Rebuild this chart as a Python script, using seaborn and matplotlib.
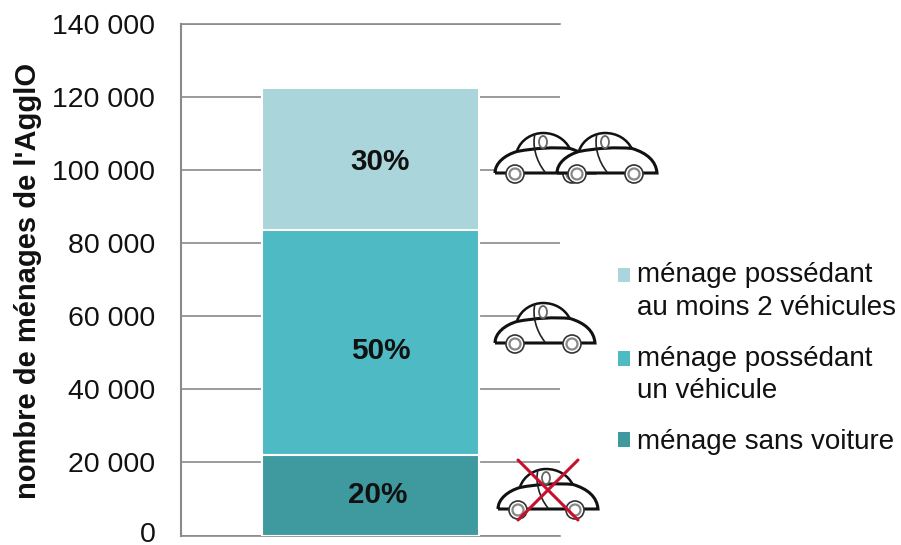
import matplotlib
matplotlib.use("Agg")
import matplotlib.pyplot as plt
import matplotlib.transforms as mtrans
import seaborn as sns
import pandas as pd
from matplotlib.path import Path
from matplotlib.patches import PathPatch, Circle, Ellipse, Rectangle
from matplotlib.lines import Line2D

categories = ["ménage sans voiture", "ménage possédant\nun véhicule", "ménage possédant\nau moins 2 véhicules"]
households = [22000, 61700, 38900]
shares = ["20%", "50%", "30%"]
colors = ["#3F9AA0", "#4DBAC4", "#AAD5DA"]
yticks = [0, 20000, 40000, 60000, 80000, 100000, 120000, 140000]
ylabel = "nombre de ménages de l'AgglO"

W, H = 901, 545
sns.set_theme(style="white")
plt.rcParams["font.family"] = ["Liberation Sans", "DejaVu Sans"]
GRID = "#8A8A8A"

fig = plt.figure(figsize=(W / 100, H / 100), dpi=100, facecolor="white")
ax = fig.add_axes([181 / W, 1 - 535.5 / H, 379 / W, 511.5 / H])

cum = pd.Series(households).cumsum().tolist()
for i in reversed(range(3)):
    df = pd.DataFrame({"g": ["total"], "v": [cum[i]]})
    sns.barplot(data=df, x="g", y="v", color=colors[i], saturation=1, width=0.575,
                edgecolor="white", linewidth=1.5, ax=ax, zorder=3)
ax.set_xlim(-0.5, 0.5)
ax.set_ylim(0, 140000)
ax.set_xticks([])
ax.set_xlabel("")
ax.set_yticks(yticks)
ax.set_yticklabels([f"{t:,}".replace(",", " ") for t in yticks], fontsize=20.5, color="#111111")
ax.tick_params(axis="y", length=0, pad=18.5)
for k, lab in enumerate(ax.get_yticklabels()):
    lift = mtrans.ScaledTranslation(0, (4 if k == 0 else 0.5) / 100, fig.dpi_scale_trans)
    lab.set_transform(lab.get_transform() + lift)
ax.set_ylabel(ylabel, fontsize=21.0, fontweight="bold", color="#111111")
ax.yaxis.set_label_coords((42 - 181) / 379, (535.5 - 281) / 511.5)
ax.grid(axis="y", color=GRID, linewidth=1.2, zorder=0)
ax.set_axisbelow(True)
ax.spines["right"].set_visible(False)
for s in ["top", "bottom"]:
    ax.spines[s].set_color(GRID)
    ax.spines[s].set_linewidth(1.2)
ax.spines["left"].set_color(GRID)
ax.spines["left"].set_linewidth(1.5)

bottoms = [0] + cum[:-1]
label_shift_px = [(7, 0), (10, -9), (10, -3)]
for b, v, s, (dx, dy) in zip(bottoms, households, shares, label_shift_px):
    ax.annotate(s, xy=(0, b + v / 2), xytext=(dx * 0.72, dy * 0.72), textcoords="offset points",
                ha="center", va="center", fontsize=21.3, fontweight="bold", color="#111111", zorder=5)

# overlay in pixel coordinates for the pictograms and legend
ov = fig.add_axes([0, 0, 1, 1], facecolor="none")
ov.set_xlim(0, W)
ov.set_ylim(H, 0)
ov.axis("off")

def car(x0, y0, s=1.0, z=6):
    M, C, L = Path.MOVETO, Path.CURVE4, Path.LINETO
    T = lambda pts: [(x0 + px * s, y0 + py * s) for px, py in pts]
    body = [(0, 40), (0, 30), (10, 22), (22, 18.5), (40, 15), (60, 14), (75, 15.5),
            (90, 20), (99, 28), (100, 40), (0, 40)]
    codes = [M, C, C, C, C, C, C, C, C, C, L]
    cab = [(22, 18), (26, 6), (38, 0), (48, 0), (60, 0), (70, 6), (75, 16)]
    door = [(40, 1), (37, 12), (41, 28), (50, 39)]
    kw = dict(edgecolor="#111111", facecolor="white", zorder=z)
    ov.add_patch(PathPatch(Path(T(cab), [M, C, C, C, C, C, C]), lw=1.8, **kw))
    ov.add_patch(PathPatch(Path(T(body), codes), lw=2.2, **kw))
    ov.add_patch(PathPatch(Path(T(door), [M, C, C, C]), lw=1.2, edgecolor="#222222", facecolor="none", zorder=z))
    ov.add_patch(Ellipse(T([(48, 9)])[0], 8 * s, 12 * s, lw=1.3, edgecolor="#666666", facecolor="white", zorder=z))
    for wx in (20, 77):
        c = T([(wx, 41)])[0]
        ov.add_patch(Circle(c, 9 * s, lw=1.2, edgecolor="#333333", facecolor="white", zorder=z))
        ov.add_patch(Circle(c, 5.5 * s, lw=1.6, edgecolor="#888888", facecolor="white", zorder=z))

car(495, 133, z=6)
car(557, 133, z=7)
car(495, 303, z=6)
car(498, 469, z=6)
for xs, ys in (([518, 578], [460, 520]), ([578, 518], [460, 520])):
    ov.add_line(Line2D(xs, ys, color="#C8102E", lw=2.2, zorder=9))

# legend
handles = [Rectangle((0, 0), 1, 1, facecolor=c, edgecolor="none") for c in colors]
leg = ov.legend(handles[::-1], categories[::-1], loc="upper left",
                bbox_to_anchor=(618 / W, 1 - 262.5 / H), fontsize=20.0, frameon=False,
                handlelength=0.43, handleheight=0.43, handletextpad=0.25,
                labelspacing=0.9, borderpad=0, borderaxespad=0, labelcolor="#111111")
for t in leg.get_texts():
    t.set_linespacing(1.32)
for h, t in zip(leg.legend_handles, leg.get_texts()):
    if "\n" in t.get_text():
        h.set_y(h.get_y() + 12)

fig.savefig("out.png", dpi=100)
